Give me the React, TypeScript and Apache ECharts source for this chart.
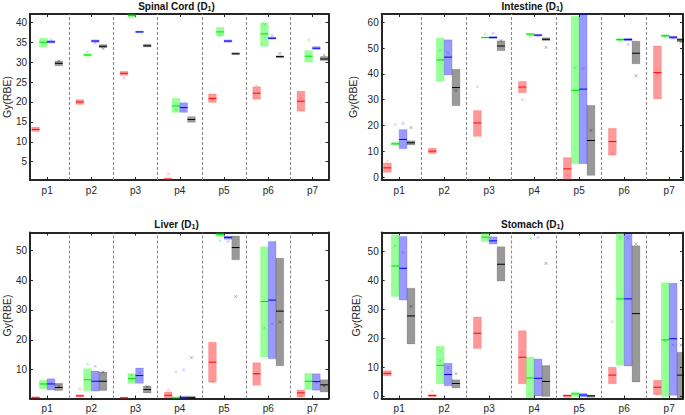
import React, { useEffect, useRef } from "react";
import * as echarts from "echarts";

// ---------- data ----------
const categories = ["p1", "p2", "p3", "p4", "p5", "p6", "p7"];

// [q1, median, q3] per patient
const spinalRed = [[12.6, 13.1, 13.7], [19.4, 20.0, 20.6], [26.7, 27.2, 27.7], [0.4, 0.6, 0.9], [19.9, 20.9, 22.0], [20.7, 22.2, 23.8], [17.7, 20.2, 22.7]];
const spinalGreen = [[33.8, 35.0, 36.0], [31.5, 31.8, 32.1], [41.2, 41.7, 42.2], [17.4, 19.0, 20.9], [36.6, 37.6, 38.7], [34.0, 37.1, 39.9], [30.0, 31.5, 32.9]];
const spinalBlue = [[34.8, 35.1, 35.4], [35.0, 35.3, 35.6], [37.4, 37.6, 37.8], [17.4, 18.6, 19.8], [35.0, 35.3, 35.6], [35.8, 36.0, 36.3], [33.2, 33.5, 33.9]];
const spinalGray = [[29.1, 29.7, 30.3], [33.6, 34.0, 34.4], [33.8, 34.1, 34.5], [14.9, 15.6, 16.3], [31.9, 32.1, 32.4], [31.1, 31.4, 31.6], [30.4, 30.8, 31.4]];
const spinalRedOut = [null, null, 26.0, 1.9, 20.65, 24.1, 20.9];
const spinalGreenOut = [null, 32.5, null, 18.1, 36.6, 39.5, 35.6];
const spinalBlueOut = [35.6, 34.8, null, 18.0, null, 36.7, null];
const spinalGrayOut = [30.3, 33.4, null, null, null, 32.2, 31.7];
const spinalTicks = [5, 10, 15, 20, 25, 30, 35, 40];

const intestineRed = [[1.9, 3.6, 5.5], [9.2, 10.1, 11.2], [15.8, 21.0, 25.8], [32.7, 34.9, 37.1], [-1.1, 3.2, 7.6], [8.5, 13.8, 18.9], [30.3, 40.5, 50.8]];
const intestineGreen = [[12.4, 12.9, 13.5], [37.2, 45.4, 53.8], [53.8, 54.1, 54.3], [54.9, 55.4, 55.7], [5.2, 33.6, 62.2], [52.8, 53.3, 53.7], [54.3, 54.8, 55.2]];
const intestineBlue = [[11.0, 14.6, 18.4], [39.6, 46.5, 53.2], [53.7, 54.1, 54.5], [54.7, 55.0, 55.3], [5.2, 34.1, 63.2], [52.8, 53.3, 53.8], [53.7, 54.2, 54.6]];
const intestineGray = [[12.5, 13.3, 14.1], [27.7, 34.7, 41.8], [49.0, 50.8, 52.8], [52.9, 53.4, 54.0], [0.7, 14.2, 27.8], [43.9, 48.0, 52.7], [52.4, 53.2, 53.7]];
const intestineRedOut = [6.3, 9.8, 35.1, 30.0, 0.9, 9.1, 40.0];
const intestineGreenOut = [20.4, 49.1, 55.4, 54.5, 42.4, 52.6, 54.4];
const intestineBlueOut = [20.8, 48.1, 55.7, 54.8, 42.1, 51.4, 53.8];
const intestineGrayOut = [19.2, 33.6, 52.9, 50.3, 18.1, 39.3, 52.3];
const intestineTicks = [0, 10, 20, 30, 40, 50, 60];

const liverRed = [[0.3, 0.55, 0.9], [0.8, 1.2, 1.6], [0.3, 0.5, 0.8], [0.4, 1.4, 2.5], [5.8, 12.5, 19.2], [4.8, 8.6, 12.3], [0.8, 2.2, 3.2]];
const liverGreen = [[3.6, 5.2, 6.4], [3.0, 6.6, 10.3], [5.4, 7.0, 8.6], [0.3, 0.5, 0.9], [54.6, 55.2, 55.9], [14.2, 32.8, 51.2], [3.3, 6.1, 8.7]];
const liverBlue = [[3.2, 5.2, 6.9], [2.8, 6.1, 9.5], [5.4, 8.0, 10.5], [0.3, 0.6, 1.1], [53.7, 54.3, 54.8], [13.6, 33.3, 52.9], [3.1, 6.0, 8.6]];
const liverGray = [[3.0, 4.0, 5.4], [3.0, 6.1, 9.2], [2.2, 3.3, 4.5], [0.3, 0.6, 1.1], [46.8, 50.9, 54.8], [11.3, 29.6, 47.3], [2.5, 4.9, 6.6]];
const liverRedOut = [null, 3.6, null, 3.3, 6.0, 8.2, 1.0];
const liverGreenOut = [null, 11.9, 8.2, 9.3, 53.2, 24.0, null];
const liverBlueOut = [5.6, 11.1, 8.8, 9.9, 52.9, 25.4, 5.6];
const liverGrayOut = [4.6, 9.2, 4.2, 14.0, 34.5, 26.0, 4.5];
const liverTicks = [10, 20, 30, 40, 50];

const stomachRed = [[7.0, 7.8, 8.7], [-0.3, 0.1, 0.5], [16.4, 21.7, 27.3], [4.2, 13.4, 22.6], [-0.5, 0.1, 0.4], [4.2, 7.2, 9.9], [0.4, 3.0, 5.4]];
const stomachGreen = [[34.4, 45.0, 55.8], [4.2, 10.6, 17.2], [53.5, 55.0, 56.6], [-0.6, 6.2, 13.4], [-0.2, 0.7, 1.3], [10.6, 33.6, 56.3], [-0.2, 19.4, 39.2]];
const stomachBlue = [[33.2, 44.2, 55.2], [3.5, 7.4, 11.3], [52.6, 53.7, 55.1], [0.0, 6.1, 12.8], [-0.3, 0.3, 0.8], [10.4, 33.6, 56.3], [0.2, 19.8, 39.0]];
const stomachGray = [[18.0, 27.7, 37.3], [2.7, 4.3, 5.6], [39.8, 45.6, 51.7], [-0.2, 5.0, 10.5], [-0.5, 0.0, 0.3], [4.8, 28.5, 52.0], [-0.6, 7.2, 15.1]];
const stomachRedOut = [7.3, 1.6, null, 15.2, null, 25.7, 0.4];
const stomachGreenOut = [52.0, 12.2, null, 54.6, null, 54.9, 19.0];
const stomachBlueOut = [49.7, 9.7, null, 54.9, 0.2, 54.7, 17.6];
const stomachGrayOut = [31.0, 7.7, null, 45.9, null, 52.6, 17.6];
const stomachTicks = [0, 10, 20, 30, 40, 50];

// ---------- styling / layout ----------
const FONT = "Liberation Sans, Arial, Helvetica, sans-serif";
const TXT = "#262626";
const BW = 0.175;
const OFFS = [-1.5, -0.5, 0.5, 1.5].map((k) => k * BW);
const METHODS = [
  { fill: "rgba(255,0,0,0.4)", edge: "rgba(255,0,0,0.14)", med: "#ff0000", out: "rgba(255,60,60,0.45)" },
  { fill: "rgba(0,255,0,0.4)", edge: "rgba(0,255,0,0.14)", med: "#00e000", out: "rgba(0,200,0,0.45)" },
  { fill: "rgba(0,0,255,0.4)", edge: "rgba(0,0,255,0.14)", med: "#0000ff", out: "rgba(60,60,255,0.45)" },
  { fill: "rgba(0,0,0,0.4)", edge: "rgba(0,0,0,0.12)", med: "#000000", out: "rgba(0,0,0,0.45)" },
];
const X_PATH = "path://M0,0L10,10M10,0L0,10";

const panels = [
  {
    name: "Spinal Cord", boxes: [spinalRed, spinalGreen, spinalBlue, spinalGray],
    outs: [spinalRedOut, spinalGreenOut, spinalBlueOut, spinalGrayOut], ticks: spinalTicks,
    yMin: 0.4, yMax: 42.1, xMin: 0.612, xMax: 7.362,
    grid: { left: 24.5, top: 14, width: 304, height: 166 }, nameGap: 13, titleTop: 0,
  },
  {
    name: "Intestine", boxes: [intestineRed, intestineGreen, intestineBlue, intestineGray],
    outs: [intestineRedOut, intestineGreenOut, intestineBlueOut, intestineGrayOut], ticks: intestineTicks,
    yMin: -1.1, yMax: 63.2, xMin: 0.612, xMax: 7.307,
    grid: { left: 381.7, top: 14, width: 301.3, height: 166 }, nameGap: 23, titleTop: 0,
  },
  {
    name: "Liver", boxes: [liverRed, liverGreen, liverBlue, liverGray],
    outs: [liverRedOut, liverGreenOut, liverBlueOut, liverGrayOut], ticks: liverTicks,
    yMin: 0.32, yMax: 55.95, xMin: 0.612, xMax: 7.362,
    grid: { left: 24.5, top: 232.5, width: 304, height: 166 }, nameGap: 13, titleTop: 218,
  },
  {
    name: "Stomach", boxes: [stomachRed, stomachGreen, stomachBlue, stomachGray],
    outs: [stomachRedOut, stomachGreenOut, stomachBlueOut, stomachGrayOut], ticks: stomachTicks,
    yMin: -0.9, yMax: 56.6, xMin: 0.612, xMax: 7.307,
    grid: { left: 381.7, top: 232.5, width: 301.3, height: 166 }, nameGap: 20, titleTop: 218,
  },
];

const xTickValues = categories.map((_, i) => i + 1);
const separators = categories.slice(1).map((_, i) => i + 1.5);

function buildOption() {
  const axisLine = { show: true, onZero: false, lineStyle: { color: TXT, width: 2 } };
  const grid: any[] = [];
  const xAxis: any[] = [];
  const yAxis: any[] = [];
  const series: any[] = [];
  const title: any[] = [];

  panels.forEach((p, i) => {
    grid.push({ ...p.grid, containLabel: false });
    title.push({
      text: `${p.name} (D{s|1})`,
      left: p.grid.left + p.grid.width / 2,
      top: p.titleTop,
      padding: 0,
      textAlign: "center",
      textStyle: {
        fontFamily: FONT, fontSize: 10, fontWeight: "bold", color: "#111", lineHeight: 12,
        rich: { s: { fontFamily: FONT, fontSize: 7, fontWeight: "bold", color: "#111", lineHeight: 6, verticalAlign: "bottom" } },
      },
    });
    const xBase = {
      gridIndex: i, type: "value", min: p.xMin, max: p.xMax, axisLine,
      splitLine: { show: false },
      axisTick: { show: true, inside: true, length: 3, customValues: xTickValues, lineStyle: { color: TXT, width: 1 } },
    };
    xAxis.push({
      ...xBase, position: "bottom",
      axisLabel: {
        customValues: xTickValues, formatter: (v: number) => categories[Math.round(v) - 1] ?? "",
        margin: 5, fontSize: 10, fontFamily: FONT, color: TXT,
      },
    });
    xAxis.push({ ...xBase, position: "top", axisLabel: { show: false } });
    const yBase = {
      gridIndex: i, type: "value", min: p.yMin, max: p.yMax, axisLine,
      splitLine: { show: false },
      axisTick: { show: true, inside: true, length: 3, customValues: p.ticks, lineStyle: { color: TXT, width: 1 } },
    };
    yAxis.push({
      ...yBase, position: "left",
      axisLabel: { customValues: p.ticks, margin: 3, fontSize: 10, fontFamily: FONT, color: TXT },
      name: "Gy(RBE)", nameLocation: "middle", nameGap: p.nameGap,
      nameTextStyle: { fontFamily: FONT, fontSize: 10.5, color: TXT },
    });
    yAxis.push({ ...yBase, position: "right", axisLabel: { show: false } });

    p.boxes.forEach((boxes, m) => {
      const st = METHODS[m];
      series.push({
        type: "custom",
        xAxisIndex: 2 * i,
        yAxisIndex: 2 * i,
        clip: true,
        silent: true,
        dimensions: ["x", "q1", "med", "q3"],
        encode: { x: 0, y: [1, 2, 3] },
        data: boxes.map((b, k) => [k + 1 + OFFS[m], b[0], b[1], b[2]]),
        renderItem: (_params: any, api: any) => {
          const x = api.value(0);
          const tl = api.coord([x - BW / 2, api.value(3)]);
          const br = api.coord([x + BW / 2, api.value(1)]);
          const md = api.coord([x, api.value(2)]);
          return {
            type: "group",
            children: [
              {
                type: "rect",
                shape: { x: tl[0], y: tl[1], width: br[0] - tl[0], height: br[1] - tl[1] },
                style: { fill: st.fill, stroke: st.edge, lineWidth: 1 },
              },
              {
                type: "line",
                shape: { x1: tl[0], y1: md[1], x2: br[0], y2: md[1] },
                style: { stroke: st.med, lineWidth: 1 },
              },
            ],
          };
        },
      });
      const outData = p.outs[m]
        .map((v, k) => (v == null ? null : [k + 1 + OFFS[m], v]))
        .filter((d) => d !== null);
      const sc: any = {
        type: "scatter",
        xAxisIndex: 2 * i,
        yAxisIndex: 2 * i,
        silent: true,
        clip: true,
        symbol: X_PATH,
        symbolSize: 3,
        itemStyle: { color: "rgba(0,0,0,0)", borderColor: st.out, borderWidth: 0.8 },
        data: outData,
      };
      if (m === 3) {
        sc.markLine = {
          silent: true,
          symbol: ["none", "none"],
          label: { show: false },
          lineStyle: { type: [3, 2], color: "#8a8a8a", width: 1.1 },
          data: separators.map((x) => ({ xAxis: x })),
        };
      }
      series.push(sc);
    });
  });

  return {
    animation: false,
    backgroundColor: "#ffffff",
    title,
    grid,
    xAxis,
    yAxis,
    series,
  };
}

export default function App() {
  const ref = useRef<HTMLDivElement>(null);
  useEffect(() => {
    if (!ref.current) return;
    const chart = echarts.init(ref.current, undefined, { renderer: "svg" });
    chart.setOption(buildOption() as any);
    return () => chart.dispose();
  }, []);
  return (
    <div
      ref={ref}
      style={{ position: "fixed", left: 0, top: 0, width: 685, height: 415, background: "#fff" }}
    />
  );
}
